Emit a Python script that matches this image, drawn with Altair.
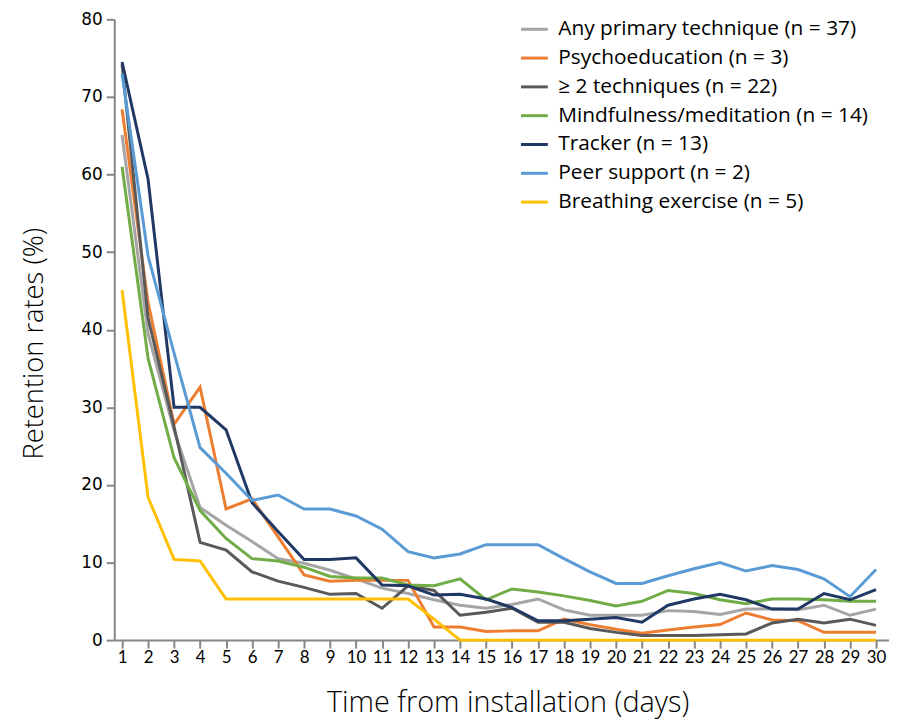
import altair as alt
import pandas as pd

days = list(range(1, 31))

series_names = [
    "Any primary technique (n = 37)",
    "Psychoeducation (n = 3)",
    "\u2265 2 techniques (n = 22)",
    "Mindfulness/meditation (n = 14)",
    "Tracker (n = 13)",
    "Peer support (n = 2)",
    "Breathing exercise (n = 5)",
]
series_colors = ["#A5A5A5", "#ED7D31", "#595959", "#70AD47", "#203864", "#5B9BD5", "#FFC000"]

any_primary = [65.1, 39.5, 27.0, 17.1, 14.8, 12.7, 10.5, 9.9, 9.0, 7.9, 6.7, 6.0, 5.2, 4.5, 4.1,
               4.6, 5.3, 3.9, 3.2, 3.2, 3.2, 3.8, 3.7, 3.3, 4.0, 4.0, 3.9, 4.5, 3.2, 4.0]
psychoeducation = [68.4, 43.5, 27.8, 32.6, 16.9, 18.2, 13.3, 8.4, 7.6, 7.7, 7.7, 7.7, 1.7, 1.7, 1.1,
                   1.2, 1.2, 2.7, 2.0, 1.4, 0.9, 1.3, 1.7, 2.0, 3.5, 2.6, 2.5, 1.0, 1.0, 1.0]
two_plus = [74.2, 41.5, 27.5, 12.6, 11.6, 8.8, 7.6, 6.8, 5.9, 6.0, 4.1, 7.0, 6.4, 3.2, 3.6,
            4.1, 2.3, 2.3, 1.5, 1.0, 0.6, 0.6, 0.6, 0.7, 0.8, 2.2, 2.7, 2.2, 2.7, 1.9]
mindfulness = [61.0, 36.3, 23.5, 16.7, 13.1, 10.5, 10.2, 9.4, 8.2, 8.0, 8.0, 7.1, 7.0, 7.9, 5.2,
               6.6, 6.2, 5.7, 5.1, 4.4, 5.0, 6.4, 6.0, 5.2, 4.7, 5.3, 5.3, 5.2, 5.0, 5.0]
tracker = [74.5, 59.4, 30.0, 30.0, 27.1, 17.7, 14.0, 10.4, 10.4, 10.6, 7.1, 7.0, 5.8, 5.9, 5.3,
           4.2, 2.5, 2.5, 2.7, 2.9, 2.3, 4.5, 5.3, 5.9, 5.2, 4.0, 4.0, 6.0, 5.2, 6.5]
peer_support = [73.0, 49.5, 37.0, 24.8, 21.5, 18.0, 18.7, 16.9, 16.9, 16.0, 14.3, 11.4, 10.6, 11.1, 12.3,
                12.3, 12.3, 10.5, 8.8, 7.3, 7.3, 8.3, 9.2, 10.0, 8.9, 9.6, 9.1, 7.9, 5.6, 9.1]
breathing = [45.1, 18.4, 10.4, 10.2, 5.3, 5.3, 5.3, 5.3, 5.3, 5.3, 5.3, 5.3, 2.7, 0.0, 0.0,
             0.0, 0.0, 0.0, 0.0, 0.0, 0.0, 0.0, 0.0, 0.0, 0.0, 0.0, 0.0, 0.0, 0.0, 0.0]

y_ticks = [0, 10, 20, 30, 40, 50, 60, 70, 80]

all_series = [any_primary, psychoeducation, two_plus, mindfulness, tracker, peer_support, breathing]
rows = []
for order, (name, vals) in enumerate(zip(series_names, all_series)):
    for d, v in zip(days, vals):
        rows.append({"day": d, "rate": v, "series": name, "order": order})
df = pd.DataFrame(rows)

chart = alt.Chart(df).mark_line(strokeWidth=3, strokeJoin="miter").encode(
    x=alt.X("day:Q",
            scale=alt.Scale(domain=[0.7, 30.5], nice=False, zero=False),
            axis=alt.Axis(values=days, title="Time from installation (days)",
                          labelFont="Lato", labelFontSize=17, labelColor="#000000",
                          labelPadding=2, tickSize=8, tickWidth=2, tickColor="#868686",
                          domainColor="#868686", domainWidth=2, grid=False,
                          titleFont="Open Sans", titleFontSize=29, titleFontWeight=300,
                          titleColor="#000000", titleX=396, titleY=63, titleBaseline="middle",
                          titleAlign="center")),
    y=alt.Y("rate:Q",
            scale=alt.Scale(domain=[0, 80], nice=False),
            axis=alt.Axis(values=y_ticks, title="Retention rates (%)",
                          labelFont="DejaVu Sans", labelFontSize=17, labelColor="#000000",
                          labelPadding=4, tickSize=8, tickWidth=2, tickColor="#868686",
                          domainColor="#868686", domainWidth=2, grid=False,
                          titleFont="Open Sans", titleFontSize=27.5, titleFontWeight=300,
                          titleColor="#000000", titleAngle=270, titleX=-80, titleY=326,
                          titleAlign="center", titleBaseline="middle")),
    color=alt.Color("series:N",
                    scale=alt.Scale(domain=series_names, range=series_colors),
                    sort=series_names,
                    legend=alt.Legend(title=None, orient="none", legendX=408, legendY=-5,
                                      symbolType="stroke", symbolSize=729, symbolStrokeWidth=3,
                                      labelFont="Open Sans", labelFontSize=21, labelColor="#000000",
                                      labelOffset=9, rowPadding=4, padding=0,
                                      labelLimit=400)),
    order=alt.Order("order:Q"),
).properties(
    width=780,
    height=625,
    autosize=alt.AutoSizeParams(type="none"),
    padding={"left": 107, "top": 9, "right": 0, "bottom": 78},
).configure_view(stroke=None)

chart.save("out.html", embed_options={"renderer": "svg", "actions": False})
